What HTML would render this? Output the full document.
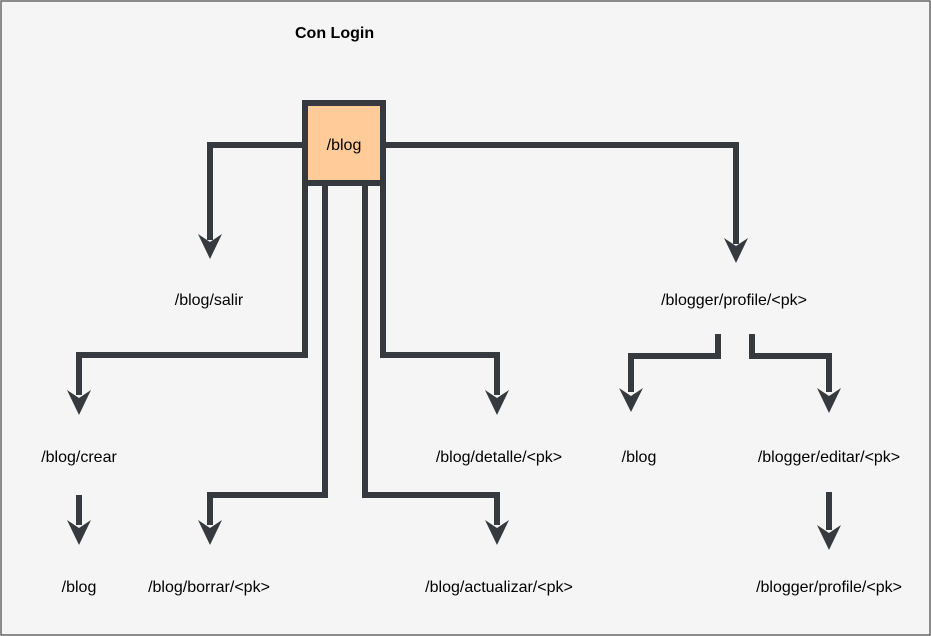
<!DOCTYPE html>
<html><head><meta charset="utf-8"><style>
html,body{margin:0;padding:0;background:#fff}
svg{display:block}
text{font-family:"Liberation Sans",Arial,sans-serif;font-size:16px;fill:#000}
</style></head><body>
<svg width="931" height="636" viewBox="0 0 931 636" xmlns="http://www.w3.org/2000/svg">
<defs>
<marker id="a" viewBox="0 0 24 24" markerWidth="24" markerHeight="24" refX="12" refY="20" orient="auto" markerUnits="userSpaceOnUse">
</marker>
</defs>
<rect x="1" y="1" width="929" height="634" fill="#f5f5f5" stroke="#666" stroke-width="1.5"/>
<text x="295" y="38" style="font-weight:bold">Con Login</text>
<g fill="none" stroke="#36393d" stroke-width="6">
<polyline points="305,145 210,145 210,240"/>
<polyline points="383,145 736,145 736,244"/>
<polyline points="305,185 305,355 79,355 79,395"/>
<polyline points="325,185 325,495 210,495 210,525"/>
<polyline points="365,185 365,495 497,495 497,525"/>
<polyline points="383,185 383,355 497,355 497,395"/>
<polyline points="718,334 718,356 631,356 631,392"/>
<polyline points="752,334 752,356 829,356 829,392"/>
<line x1="79" y1="495" x2="79" y2="525"/>
<line x1="829" y1="492" x2="829" y2="530"/>
</g>
<g fill="#36393d">
<path d="M198,234 L210,242 L222,234 L210,259 Z"/>
<path d="M724,238 L736,246 L748,238 L736,263 Z"/>
<path d="M67,390 L79,398 L91,390 L79,415 Z"/>
<path d="M198,520 L210,528 L222,520 L210,545 Z"/>
<path d="M485,520 L497,528 L509,520 L497,545 Z"/>
<path d="M485,390 L497,398 L509,390 L497,415 Z"/>
<path d="M619,388 L631,396 L643,388 L631,412 Z"/>
<path d="M817,388 L829,396 L841,388 L829,413 Z"/>
<path d="M67,520 L79,528 L91,520 L79,545 Z"/>
<path d="M817,525 L829,533 L841,525 L829,550 Z"/>
</g>
<rect x="305" y="103" width="78" height="80" fill="#ffcc99" stroke="#36393d" stroke-width="6"/>
<text x="344" y="150" text-anchor="middle">/blog</text>
<text x="209" y="305" text-anchor="middle">/blog/salir</text>
<text x="734" y="305" text-anchor="middle">/blogger/profile/&lt;pk&gt;</text>
<text x="79" y="462" text-anchor="middle">/blog/crear</text>
<text x="499" y="462" text-anchor="middle">/blog/detalle/&lt;pk&gt;</text>
<text x="639" y="462" text-anchor="middle">/blog</text>
<text x="829" y="462" text-anchor="middle">/blogger/editar/&lt;pk&gt;</text>
<text x="79" y="592" text-anchor="middle">/blog</text>
<text x="209" y="592" text-anchor="middle">/blog/borrar/&lt;pk&gt;</text>
<text x="499" y="592" text-anchor="middle">/blog/actualizar/&lt;pk&gt;</text>
<text x="829" y="592" text-anchor="middle">/blogger/profile/&lt;pk&gt;</text>
</g>
</svg>
</body></html>
